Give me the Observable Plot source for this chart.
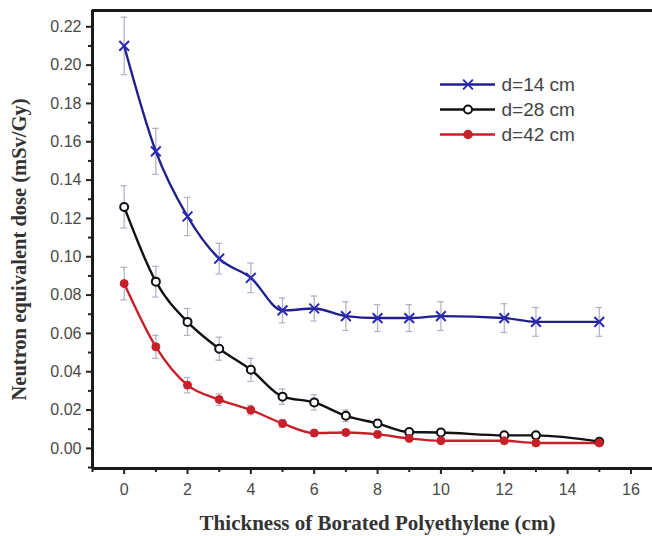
<!DOCTYPE html>
<html>
<head>
<meta charset="utf-8">
<script src="https://cdn.jsdelivr.net/npm/d3@7"></script>
<script src="https://cdn.jsdelivr.net/npm/@observablehq/plot@0.6"></script>
<style>
  html, body { margin: 0; padding: 0; background: white; }
  #wrap { position: relative; width: 652px; height: 536px; overflow: hidden; }
  #legend { position: absolute; left: 438px; top: 70px; }
</style>
</head>
<body>
<div id="wrap"><div id="chart"></div><div id="legend"></div></div>
<script>
// ---- data ----
const thickness = [0, 1, 2, 3, 4, 5, 6, 7, 8, 9, 10, 12, 13, 15];
const dose14 = [0.210, 0.155, 0.121, 0.099, 0.089, 0.072, 0.073, 0.069, 0.068, 0.068, 0.069, 0.068, 0.066, 0.066];
const err14  = [0.015, 0.012, 0.010, 0.008, 0.0077, 0.0065, 0.0065, 0.0075, 0.007, 0.007, 0.0075, 0.0075, 0.0075, 0.0075];
const dose28 = [0.126, 0.087, 0.066, 0.052, 0.041, 0.027, 0.024, 0.017, 0.013, 0.0085, 0.0083, 0.0068, 0.0068, 0.0035];
const err28  = [0.011, 0.008, 0.007, 0.006, 0.006, 0.004, 0.004, 0.003, 0.002, 0.0015, 0.0015, 0.001, 0.001, 0.001];
const dose42 = [0.086, 0.053, 0.033, 0.0255, 0.020, 0.013, 0.008, 0.0083, 0.0073, 0.0052, 0.004, 0.004, 0.0028, 0.0028];
const err42  = [0.0085, 0.006, 0.004, 0.003, 0.0025, 0.002, 0.0015, 0.0015, 0.001, 0.001, 0.001, 0.001, 0.001, 0.001];
const seriesNames = ["d=14 cm", "d=28 cm", "d=42 cm"];
const seriesColors = ["#20208c", "#111111", "#c8202a"];
const markerColors = ["#2a2ab4", "#111111", "#c8202a"];
const xTicks = [0, 2, 4, 6, 8, 10, 12, 14, 16];
const xMinor = [-1, 1, 3, 5, 7, 9, 11, 13, 15];
const yTicks = [0, 0.02, 0.04, 0.06, 0.08, 0.10, 0.12, 0.14, 0.16, 0.18, 0.20, 0.22];
const yMinor = [-0.01, 0.01, 0.03, 0.05, 0.07, 0.09, 0.11, 0.13, 0.15, 0.17, 0.19, 0.21];
const xTitle = "Thickness of Borated Polyethylene (cm)";
const yTitle = "Neutron equivalent dose (mSv/Gy)";

const build = (name, vals, errs) => thickness.map((t, i) => ({series: name, x: t, y: vals[i], e: errs[i]}));
const s14 = build(seriesNames[0], dose14, err14);
const s28 = build(seriesNames[1], dose28, err28);
const s42 = build(seriesNames[2], dose42, err42);
const all = [...s14, ...s28, ...s42];

const xDom = [-1, 16.68];
const yDom = [-0.0105, 0.2285];
const errColor = "#aeb0c0";
const capW = 0.1;
const serif = "'Liberation Serif', 'Times New Roman', serif";

const chart = Plot.plot({
  width: 652, height: 536,
  marginLeft: 92, marginRight: 0, marginTop: 10, marginBottom: 68,
  x: {domain: xDom},
  y: {domain: yDom},
  style: {fontFamily: "'Liberation Sans', Arial, sans-serif", fontSize: "16px", color: "#4a4a4a", background: "white"},
  marks: [
    // error bars
    Plot.ruleX(all, {x: "x", y1: d => d.y - d.e, y2: d => d.y + d.e, stroke: errColor, strokeWidth: 1.2}),
    Plot.ruleY(all, {y: d => d.y + d.e, x1: d => d.x - capW, x2: d => d.x + capW, stroke: errColor, strokeWidth: 1.2}),
    Plot.ruleY(all, {y: d => d.y - d.e, x1: d => d.x - capW, x2: d => d.x + capW, stroke: errColor, strokeWidth: 1.2}),
    // lines
    Plot.line(s14, {x: "x", y: "y", stroke: seriesColors[0], strokeWidth: 2.4, curve: "monotone-x"}),
    Plot.line(s28, {x: "x", y: "y", stroke: seriesColors[1], strokeWidth: 2.4, curve: "monotone-x"}),
    Plot.line(s42, {x: "x", y: "y", stroke: seriesColors[2], strokeWidth: 2.4, curve: "monotone-x"}),
    // markers
    Plot.dot(s14, {x: "x", y: "y", symbol: "times", r: 4.5, stroke: markerColors[0], strokeWidth: 2}),
    Plot.dot(s28, {x: "x", y: "y", symbol: "circle", r: 4, stroke: markerColors[1], fill: "white", strokeWidth: 2}),
    Plot.dot(s42, {x: "x", y: "y", symbol: "circle", r: 4, stroke: markerColors[2], fill: markerColors[2], strokeWidth: 1}),
    // axes
    Plot.axisY({ticks: yTicks, tickSize: 6, tickPadding: 5, strokeWidth: 2, stroke: "#222", tickFormat: d => d.toFixed(2), label: null}),
    Plot.axisY({ticks: yMinor.filter(v => v > yDom[0]), tickSize: 4, strokeWidth: 2, stroke: "#222", text: null, label: null}),
    Plot.axisX({ticks: xTicks, tickSize: 6, tickPadding: 9, strokeWidth: 2, stroke: "#222", label: null}),
    Plot.axisX({ticks: xMinor, tickSize: 4, strokeWidth: 2, stroke: "#222", text: null, label: null}),
    // frame (left, top, bottom)
    Plot.ruleX([xDom[0]], {stroke: "#1a1a1a", strokeWidth: 3}),
    Plot.ruleY([yDom[1]], {stroke: "#1a1a1a", strokeWidth: 3}),
    Plot.ruleY([yDom[0]], {stroke: "#1a1a1a", strokeWidth: 3}),
    // titles
    Plot.text([yTitle], {text: d => d, frameAnchor: "left", textAnchor: "middle", lineAnchor: "middle",
      rotate: -90, dx: -73, dy: 10,
      fontFamily: serif, fontWeight: "bold", fontSize: 20.5, fill: "#333"}),
    Plot.text([xTitle], {text: d => d, frameAnchor: "bottom", textAnchor: "middle", lineAnchor: "middle",
      dx: 5, dy: 55,
      fontFamily: serif, fontWeight: "bold", fontSize: 21, fill: "#333"})
  ]
});
document.getElementById("chart").appendChild(chart);

// legend
const legendRows = seriesNames.map((n, i) => ({series: n, color: seriesColors[i]}));
const legend = Plot.plot({
  width: 170, height: 78,
  marginLeft: 2, marginRight: 113, marginTop: 13, marginBottom: 14,
  x: {domain: [0, 1], axis: null},
  y: {type: "point", domain: seriesNames, padding: 0, axis: null},
  style: {fontFamily: "'Liberation Sans', Arial, sans-serif", background: "transparent"},
  marks: [
    Plot.ruleY(legendRows, {y: "series", x1: 0, x2: 1, stroke: "color", strokeWidth: 2.4}),
    Plot.dot(legendRows.slice(0, 1), {x: 0.5, y: "series", symbol: "times", r: 4.5, stroke: markerColors[0], strokeWidth: 2}),
    Plot.dot(legendRows.slice(1, 2), {x: 0.5, y: "series", symbol: "circle", r: 4, stroke: markerColors[1], fill: "white", strokeWidth: 2}),
    Plot.dot(legendRows.slice(2, 3), {x: 0.5, y: "series", symbol: "circle", r: 4, stroke: markerColors[2], fill: markerColors[2]}),
    Plot.text(legendRows, {x: 1, y: "series", text: "series", dx: 6, textAnchor: "start", fontSize: 19, fill: "#444"})
  ]
});
legend.style.background = "transparent";
document.getElementById("legend").appendChild(legend);
</script>
</body>
</html>
